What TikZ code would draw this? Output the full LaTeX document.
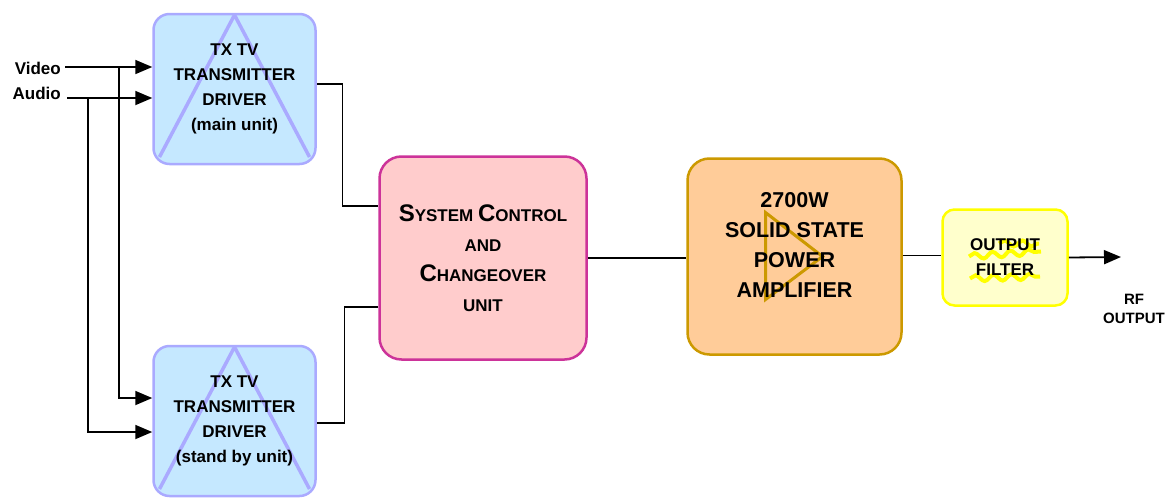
\documentclass[tikz,border=0pt]{standalone}
\usepackage{fontspec}
\setmainfont{Liberation Sans}
\usetikzlibrary{arrows.meta,decorations.pathmorphing}
\definecolor{drvfill}{RGB}{197,232,255}
\definecolor{drvline}{RGB}{170,170,255}
\definecolor{ctlfill}{RGB}{255,204,204}
\definecolor{ctlline}{RGB}{204,51,153}
\definecolor{ampfill}{RGB}{255,204,153}
\definecolor{ampline}{RGB}{204,153,0}
\definecolor{fltfill}{RGB}{255,255,204}
\definecolor{fltline}{RGB}{255,255,0}
\newcommand\scword[2]{{\fontsize{24}{30}\selectfont #1}#2}
\tikzset{drvbox/.style={draw=drvline,fill=drvfill,line width=2.5pt,rounded corners=16pt,minimum width=162pt,minimum height=150pt,align=center,font=\bfseries\fontsize{17}{25}\selectfont,path picture={\draw[drvline,line width=3.5pt,sharp corners] ([xshift=6pt,yshift=7pt]path picture bounding box.south west)--([yshift=-1pt]path picture bounding box.north)--([xshift=-6pt,yshift=7pt]path picture bounding box.south east);}},ctlbox/.style={draw=ctlline,fill=ctlfill,line width=2.5pt,rounded corners=22pt,minimum width=207pt,minimum height=203pt,align=center,font=\bfseries\fontsize{17}{30}\selectfont},ampbox/.style={draw=ampline,fill=ampfill,line width=2.5pt,rounded corners=22pt,minimum width=214pt,minimum height=196pt,path picture={\draw[ampline,line width=3pt,sharp corners] ([shift={(-29pt,44pt)}]path picture bounding box.center)--([xshift=28pt]path picture bounding box.center)--([shift={(-29pt,-43pt)}]path picture bounding box.center)--cycle;}},fltbox/.style={draw=fltline,fill=fltfill,line width=2.5pt,rounded corners=12pt,minimum width=125pt,minimum height=96pt,align=center,font=\bfseries\fontsize{17}{25}\selectfont,path picture={\draw[fltwave] ([shift={(-36pt,1pt)}]path picture bounding box.center)--++(72pt,5pt); \draw[fltwave] ([shift={(-35pt,-21pt)}]path picture bounding box.center)--++(70pt,2pt); \draw[fltwave] ([shift={(-6pt,14pt)}]path picture bounding box.center)--++(40pt,0pt);}},fltwave/.style={fltline,line width=4pt,sharp corners,decorate,decoration={snake,amplitude=3pt,segment length=18pt}},inlbl/.style={font=\bfseries\fontsize{17}{25}\selectfont,inner sep=0pt,align=center},sig/.style={-{Triangle[length=17pt,width=14pt]},line width=1.8pt},wire/.style={line width=1.5pt}}
\begin{document}
\begin{tikzpicture}[x=1pt,y=-1pt]
\useasboundingbox (0,0) rectangle (1172,498);
\node[drvbox] (main) at (234.5,89) {TX TV\\TRANSMITTER\\DRIVER\\(main unit)};
\node[drvbox] (stby) at (234.5,421) {TX TV\\TRANSMITTER\\DRIVER\\(stand by unit)};
\node[ctlbox] (ctrl) at (483,258) {\scword{S}{YSTEM} \scword{C}{ONTROL}\\AND\\\scword{C}{HANGEOVER}\\UNIT};
\node[ampbox] (amp) at (794.5,256.5) {};
\node[inlbl,font=\bfseries\fontsize{21.5}{30}\selectfont] (amptxt) at ([yshift=12pt]amp.center) {2700W\\SOLID STATE\\POWER\\AMPLIFIER};
\node[fltbox] (flt) at (1005,257.5) {OUTPUT\\FILTER};
\node[inlbl,anchor=east] (video) at (61,68) {Video};
\node[inlbl,anchor=east] (audio) at (61,93) {Audio};
\node[inlbl,font=\bfseries\fontsize{15}{19}\selectfont] (rflbl) at (1134,309) {RF\\OUTPUT};
% inputs and their split to the stand by driver
\coordinate (vin) at (65,67); \coordinate (ain) at (67,98);
\coordinate (vsplit) at (119,67); \coordinate (asplit) at (88,98);
\coordinate (rfout) at (1121,257);
\draw[sig] (vin)--(vin -| main.west); \draw[sig] (ain)--(ain -| main.west);
\draw[sig] (vsplit) |- ([yshift=23pt]stby.west); \draw[sig] (asplit) |- ([yshift=-11pt]stby.west);
% drivers to changeover
\draw[wire] ([yshift=5pt]main.east) -| ([shift={(-36pt,52pt)}]ctrl.west)--([yshift=52pt]ctrl.west);
\draw[wire] ([yshift=-2pt]stby.east) -| ([shift={(-34pt,-49pt)}]ctrl.west)--([yshift=-49pt]ctrl.west);
\draw[wire] (ctrl.east)--(ctrl.east -| amp.west); \draw[wire] ([yshift=1pt]amp.east)--([yshift=1pt]amp.east -| flt.west);
\draw[sig] (flt.east)--(rfout);
\end{tikzpicture}
\end{document}
